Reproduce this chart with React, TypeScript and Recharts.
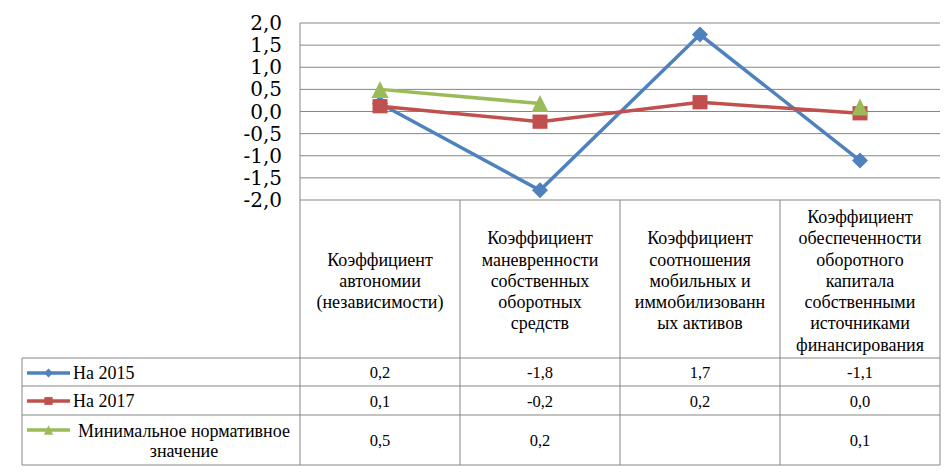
import React from 'react';
import { LineChart, Line, XAxis, YAxis, CartesianGrid } from 'recharts';

const categoryLines: string[][] = [
  ['Коэффициент', 'автономии', '(независимости)'],
  ['Коэффициент', 'маневренности', 'собственных', 'оборотных', 'средств'],
  ['Коэффициент', 'соотношения', 'мобильных и', 'иммобилизованн', 'ых активов'],
  ['Коэффициент', 'обеспеченности', 'оборотного', 'капитала', 'собственными', 'источниками', 'финансирования'],
];
const categories = categoryLines.map((l) => l.join(' '));

const series2015: (number | null)[] = [0.18, -1.78, 1.74, -1.11];
const series2017: (number | null)[] = [0.12, -0.23, 0.21, -0.04];
const seriesNorm: (number | null)[] = [0.5, 0.18, null, 0.1];

const seriesLabels: string[][] = [['На  2015'], ['На   2017'], ['Минимальное нормативное', 'значение']];
const seriesColors = ['#4F81BD', '#C0504D', '#9BBB59'];
const seriesKeys = ['y2015', 'y2017', 'norm'];
const seriesValues = [series2015, series2017, seriesNorm];

const yTicks = [-2, -1.5, -1, -0.5, 0, 0.5, 1, 1.5, 2];

const data = categories.map((name, i) => ({
  name,
  y2015: series2015[i],
  y2017: series2017[i],
  norm: seriesNorm[i],
}));

const GRID = '#868686';

const fmt = (v: number | null) => {
  if (v === null || v === undefined) return '';
  const r = Math.round(v * 10) / 10;
  return (r === 0 ? 0 : r).toFixed(1).replace('.', ',');
};

function T({ x, y, size, anchor = 'middle', children, fam = 'Liberation Serif' }: any) {
  return (
    <text x={x} y={y} textAnchor={anchor} dy="0.35em" fill="#000" fontFamily={fam} fontSize={size}>{children}</text>
  );
}

function Marker({ kind, cx, cy, color, s = 1 }: any) {
  if (cx == null || cy == null || isNaN(cx) || isNaN(cy)) return <g />;
  if (kind === 0) {
    const h = 8 * s;
    return <path d={`M${cx},${cy - h}L${cx + h},${cy}L${cx},${cy + h}L${cx - h},${cy}Z`} fill={color} />;
  }
  if (kind === 1) {
    const h = 7.5 * s;
    return <rect x={cx - h} y={cy - h * 0.95} width={2 * h} height={2 * h * 0.95} fill={color} />;
  }
  const h = 8.5 * s;
  return <path d={`M${cx},${cy - h}L${cx + h},${cy + h}L${cx - h},${cy + h}Z`} fill={color} />;
}

const makeDot = (kind: number, color: string) => (p: any) => (
  <Marker key={`d-${kind}-${p.index}`} kind={kind} cx={p.cx} cy={p.cy} color={color} />
);

function YTick(props: any) {
  const { x, y, payload } = props;
  return <T x={x} y={y} size={20} anchor="end" fam="DejaVu Serif">{payload.value.toFixed(1).replace('.', ',')}</T>;
}

function TableTick(props: any) {
  const { x, y, payload, width } = props;
  const index = payload && payload.index != null ? payload.index : props.index;
  const w = typeof width === 'number' ? width : 640;
  const half = w / categories.length / 2;
  const left = x - half;
  const right = x + half;
  const y0 = y;
  const rowTop = y0 + 158;
  const rowLines = [y0 + 158, y0 + 186, y0 + 215, y0 + 265];
  const rowCenters = [y0 + 172.5, y0 + 201, y0 + 240.5];
  const lines = categoryLines[index] || [];
  const lh = 21.3;
  const hc = y0 + 80.5;
  const startY = hc - ((lines.length - 1) * lh) / 2;
  const elems: React.ReactNode[] = [];

  elems.push(<line key="vl" x1={left} y1={y0} x2={left} y2={y0 + 265} stroke={GRID} strokeWidth={1} />);
  if (index === categories.length - 1) {
    elems.push(<line key="vr" x1={right} y1={y0} x2={right} y2={y0 + 265} stroke={GRID} strokeWidth={1} />);
  }
  rowLines.forEach((ry, i) => {
    elems.push(<line key={`h${i}`} x1={left} y1={ry} x2={right} y2={ry} stroke={GRID} strokeWidth={1} />);
  });
  lines.forEach((t, i) => {
    elems.push(<T key={`t${i}`} x={x} y={startY + i * lh} size={18}>{t}</T>);
  });
  seriesValues.forEach((vals, si) => {
    elems.push(<T key={`v${si}`} x={x} y={rowCenters[si]} size={16.5} fam="Times New Roman">{fmt(vals[index])}</T>);
  });

  if (index === 0) {
    const tl = left - 278;
    elems.push(<line key="lb" x1={tl} y1={rowTop} x2={tl} y2={y0 + 265} stroke={GRID} strokeWidth={1} />);
    rowLines.forEach((ry, i) => {
      elems.push(<line key={`lh${i}`} x1={tl} y1={ry} x2={left} y2={ry} stroke={GRID} strokeWidth={1} />);
    });
    const symY = [y0 + 173, y0 + 201, y0 + 230];
    seriesLabels.forEach((lbl, si) => {
      const sx1 = tl + 5;
      const sx2 = tl + 48;
      const sy = symY[si];
      elems.push(<line key={`sl${si}`} x1={sx1} y1={sy} x2={sx2} y2={sy} stroke={seriesColors[si]} strokeWidth={3.5} />);
      elems.push(<Marker key={`sm${si}`} kind={si} cx={(sx1 + sx2) / 2} cy={sy} color={seriesColors[si]} s={0.55} />);
      if (lbl.length === 1) {
        elems.push(<T key={`lt${si}`} x={tl + 51} y={sy} size={18} anchor="start" fam="serif">{lbl[0]}</T>);
      } else {
        lbl.forEach((t, li) => {
          elems.push(<T key={`lt${si}-${li}`} x={tl + 162} y={sy + 1 + li * 19.5} size={18} fam="serif">{t}</T>);
        });
      }
    });
  }
  return <g>{elems}</g>;
}

export default function App() {
  return (
    <div style={{ marginLeft: -8, marginTop: -8, width: 950, height: 472 }}>
      <LineChart width={950} height={472} data={data} margin={{ top: 23, right: 10, bottom: 7, left: 240 }}>
        <CartesianGrid vertical={false} stroke={GRID} strokeWidth={1} />
        <XAxis dataKey="name" scale="band" interval={0} height={265} axisLine={false} tickLine={false}
          tickSize={0} tickMargin={0} tick={<TableTick />} />
        <YAxis type="number" domain={[-2, 2]} ticks={yTicks} interval={0} width={60}
          axisLine={{ stroke: GRID }} tickLine={false} tickSize={0} tickMargin={18}
          tick={<YTick />} />
        {seriesKeys.map((k, i) => (
          <Line key={k} dataKey={k} type="linear" stroke={seriesColors[i]} strokeWidth={3.5}
            dot={makeDot(i, seriesColors[i])} activeDot={false} isAnimationActive={false} connectNulls={false} />
        ))}
      </LineChart>
    </div>
  );
}
